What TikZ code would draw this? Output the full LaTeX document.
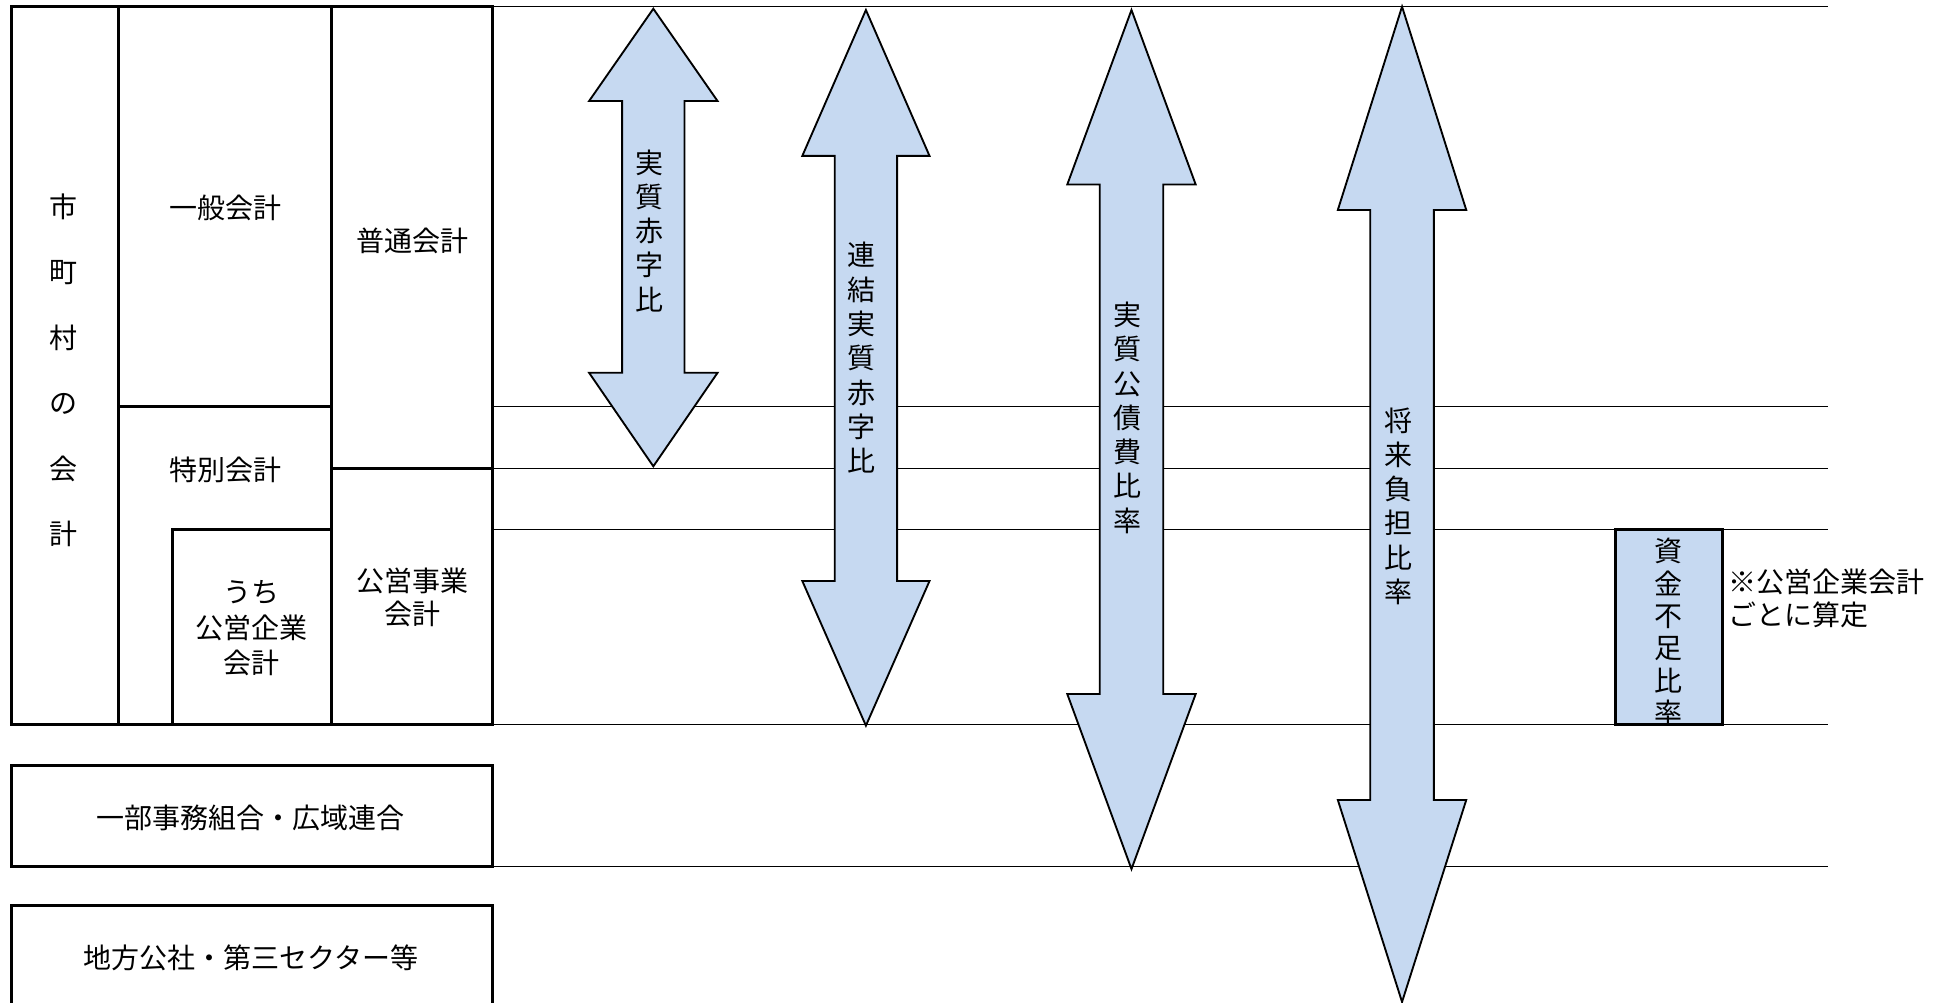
\documentclass[tikz,border=0pt]{standalone}
\usepackage{fontspec}
\setmainfont{Noto Sans CJK JP}
\definecolor{abl}{RGB}{198,217,241}
\tikzset{
  heavybox/.style={draw=black, line width=2.2pt, line join=miter},
  gridline/.style={draw=black, line width=0.8pt},
  arr/.style={draw=black, fill=abl, line width=1.4pt, line join=miter},
  lbl/.style={inner sep=0pt, align=center, font=\fontsize{21pt}{25pt}\selectfont},
  vlbl/.style={inner sep=0pt, align=center, font=\fontsize{21pt}{25.7pt}\selectfont},
}
\newcommand\dblarrow[7]{%
  \draw[arr] (#1,#4) -- ({#1+#2},#5) -- ({#1+#3},#5) -- ({#1+#3},#6) -- ({#1+#2},#6) -- (#1,#7)
    -- ({#1-#2},#6) -- ({#1-#3},#6) -- ({#1-#3},#5) -- ({#1-#2},#5) -- cycle;}
\begin{document}
\begin{tikzpicture}[x=0.9351pt, y=-0.9351pt]
\useasboundingbox (0,0) rectangle (1568,804);
% horizontal guide lines
\foreach \yy in {5.5,326,376,425,581,695}
  \draw[gridline] (395,\yy) -- (1466,\yy);
% left blocks
\draw[heavybox] (9,5.5) rectangle (395,581);
\draw[heavybox] (95,5.5) rectangle (266,326);
\draw[heavybox] (95,326) rectangle (266,581);
\draw[heavybox] (138,425) rectangle (266,581);
\draw[heavybox] (266,5.5) rectangle (395,376);
\draw[heavybox] (266,376) rectangle (395,581);
\draw[heavybox] (9,614) rectangle (395,695);
\draw[heavybox] (9,726) rectangle (395,840);
% texts in left blocks
\node[vlbl, font=\fontsize{21pt}{49.1pt}\selectfont] (shi) at (51,297) {市\\町\\村\\の\\会\\計};
\node[lbl] (ippan) at (181,167) {一般会計};
\node[lbl] (futsu) at (331,193) {普通会計};
\node[lbl] (tokubetsu) at (181,377) {特別会計};
\node[lbl, font=\fontsize{21pt}{26.6pt}\selectfont] (uchi) at (202,504) {うち\\公営企業\\会計};
\node[lbl, font=\fontsize{21pt}{24.3pt}\selectfont] (koei) at (331,479) {公営事業\\会計};
\node[lbl] (ichibu) at (201,656) {一部事務組合・広域連合};
\node[lbl] (chiho) at (201,768) {地方公社・第三セクター等};
% arrows
\dblarrow{524}{51.5}{25}{7}{81}{299}{374}
\dblarrow{694.5}{51}{25}{8}{125}{466}{582}
\dblarrow{907.5}{51.5}{25.5}{8}{148}{556.6}{697}
\dblarrow{1124.5}{51.5}{25.5}{5.3}{168.4}{641.6}{803.6}
\node[vlbl] (r1) at (521,185) {実\\質\\赤\\字\\比};
\node[vlbl] (r2) at (691,287) {連\\結\\実\\質\\赤\\字\\比};
\node[vlbl] (r3) at (904,335) {実\\質\\公\\債\\費\\比\\率};
\node[vlbl] (r4) at (1122,406) {将\\来\\負\\担\\比\\率};
% fund shortage box
\draw[heavybox, fill=abl] (1295.5,425) rectangle (1381.5,581);
\node[vlbl, font=\fontsize{21pt}{24.3pt}\selectfont] (r5) at (1338,507) {資\\金\\不\\足\\比\\率};
\node[lbl, align=left, anchor=west, font=\fontsize{21pt}{24.3pt}\selectfont] (note) at (1386,480) {※公営企業会計\\ごとに算定};
\end{tikzpicture}
\end{document}
